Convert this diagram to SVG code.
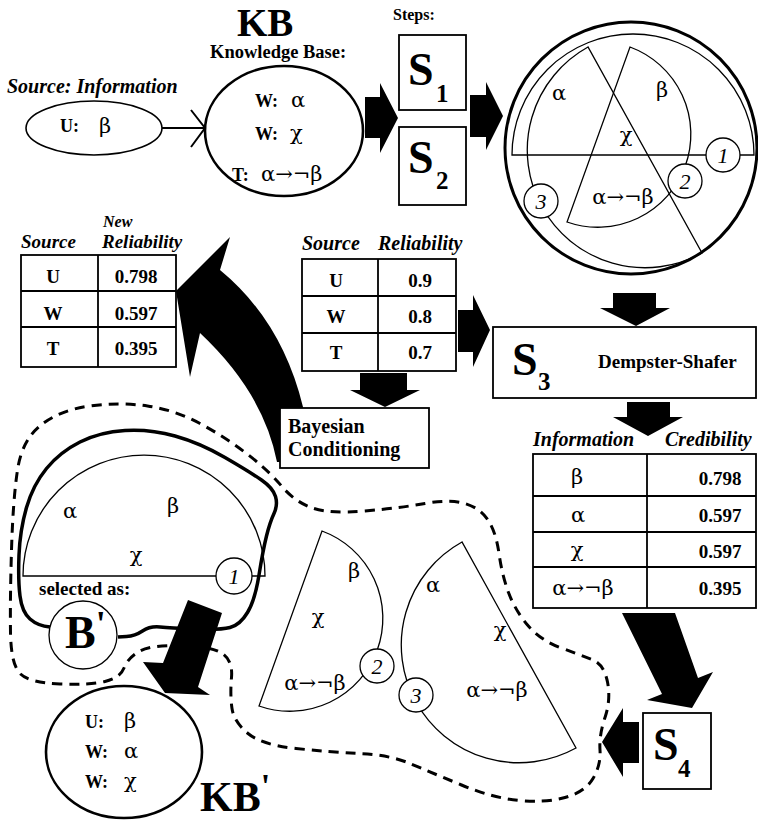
<svg xmlns="http://www.w3.org/2000/svg" width="758" height="820" viewBox="0 0 758 820">
<style>
text{font-family:"Liberation Serif","Times New Roman",serif;fill:#000}
.b{font-weight:bold}
.bi{font-weight:bold;font-style:italic}
.g{font-family:"DejaVu Serif","Liberation Serif",serif;font-size:21px}
.m{text-anchor:middle}
.ln{fill:none;stroke:#000;stroke-width:1.3}
.box{fill:#fff;stroke:#000;stroke-width:1.8}
.tb{fill:none;stroke:#000;stroke-width:1.8}
.arr{fill:#000;stroke:none}
.num{fill:#fff;stroke:#000;stroke-width:1.3}
.nt{font-style:italic;font-size:22px;text-anchor:middle}
.big{font-weight:bold;font-size:46px}
.sub{font-weight:bold;font-size:25px}
.cell{font-weight:bold;font-size:19px;text-anchor:middle}
</style>
<rect width="758" height="820" fill="#fff"/>

<!-- dashed region -->
<g id="region">
<path d="M 11.5,550 Q 13,500 17.5,470 Q 22,440 41,425 Q 60,410 90,406 Q 120,402 147.5,406 Q 175,410 200,423.5 Q 225,437 246.5,453.5 Q 268,470 281.5,486 Q 295,502 312.5,508 Q 330,514 365,511 Q 400,508 425,503.5 Q 450,499 465,503.5 Q 480,508 488,520 Q 496,532 499,553.5 Q 502,575 508.5,592.5 Q 515,610 527.5,625 Q 540,640 560,647.5 Q 580,655 592,659.5 Q 604,664 607.5,682 Q 611,700 605,717.5 Q 599,735 600,750 Q 601,765 593,778.5 Q 585,792 565,797.5 Q 545,803 519,800.5 Q 493,798 461.5,785 Q 430,772 410,763.5 Q 390,755 360,753.5 Q 330,752 296,748.5 Q 262,745 248,733.5 Q 234,722 232,708.5 Q 230,695 231.5,677.5 Q 233,660 221.5,653 Q 210,646 180,645.5 Q 150,645 139,651.5 Q 128,658 124,668 Q 120,678 105,681.5 Q 90,685 60,684 Q 30,683 20.5,674 Q 11,665 10.5,632.5 Q 10,600 11.5,550 Z" fill="none" stroke="#000" stroke-width="3" stroke-dasharray="10 7"/>
</g>

<!-- source -->
<g id="source">
<text x="7" y="93" class="bi" font-size="20">Source: Information</text>
<ellipse cx="94" cy="128" rx="68" ry="27" fill="none" stroke="#000" stroke-width="1.6"/>
<text x="60" y="132" class="b" font-size="18">U:</text>
<text x="99" y="133" class="g">β</text>
</g>

<!-- KB -->
<g id="kb">
<text x="237" y="36" class="b" font-size="39">KB</text>
<text x="210" y="58" class="b" font-size="18.5">Knowledge Base:</text>
<ellipse cx="284" cy="131" rx="79" ry="65" fill="none" stroke="#000" stroke-width="2.6"/>
<text x="255" y="107" class="b" font-size="18">W:</text>
<text x="291" y="107" class="g">α</text>
<text x="255" y="140" class="b" font-size="18">W:</text>
<text x="290" y="140" class="g">χ</text>
<text x="232" y="181" class="b" font-size="18">T:</text>
<text x="261" y="181" class="g">α→¬β</text>
</g>

<!-- steps -->
<g id="steps">
<text x="393" y="20" class="b" font-size="16">Steps:</text>
<rect x="399" y="35" width="67" height="75" class="box"/>
<text x="408" y="85" class="big">S</text><text x="436" y="102" class="sub">1</text>
<rect x="399" y="127" width="67" height="78" class="box"/>
<text x="408" y="173" class="big">S</text><text x="436" y="189" class="sub">2</text>
</g>

<!-- circle of sectors -->
<g id="combined">
<circle cx="631" cy="148" r="126" fill="none" stroke="#000" stroke-width="3"/>
<path class="ln" d="M512,155 A121,121 0 0 1 754,155 Z"/>
<path class="ln" d="M630,47 A93,93 0 0 1 567,222 Z"/>
<path class="ln" d="M588,47 A117.7,117.7 0 0 0 702,253 Z"/>
<text x="559" y="100" class="g m">α</text>
<text x="662" y="97" class="g m">β</text>
<text x="626" y="142" class="g m">χ</text>
<text x="623" y="204" class="g m">α→¬β</text>
<circle cx="723" cy="155" r="17" class="num"/><text x="723" y="163" class="nt">1</text>
<circle cx="685" cy="181" r="17" class="num"/><text x="685" y="189" class="nt">2</text>
<circle cx="541" cy="201" r="17" class="num"/><text x="541" y="209" class="nt">3</text>
</g>

<!-- new reliability table -->
<g id="newrel">
<text x="21" y="248" class="bi" font-size="19">Source</text>
<text x="103" y="227" class="bi" font-size="16">New</text>
<text x="102" y="248" class="bi" font-size="19">Reliability</text>
<rect x="21" y="255" width="155" height="112" class="tb"/>
<path class="tb" d="M98,255 V367 M21,291 H176 M21,327 H176"/>
<text x="53" y="283" class="cell">U</text><text x="136" y="283" class="cell">0.798</text>
<text x="53" y="320" class="cell">W</text><text x="136" y="320" class="cell">0.597</text>
<text x="53" y="355" class="cell">T</text><text x="136" y="355" class="cell">0.395</text>
</g>

<!-- reliability table -->
<g id="rel">
<text x="302" y="250" class="bi" font-size="20">Source</text>
<text x="378" y="250" class="bi" font-size="20">Reliability</text>
<rect x="302" y="259" width="154" height="112" class="tb"/>
<path class="tb" d="M378,259 V371 M302,296 H456 M302,333 H456"/>
<text x="336" y="287" class="cell">U</text><text x="420" y="287" class="cell">0.9</text>
<text x="336" y="323" class="cell">W</text><text x="420" y="323" class="cell">0.8</text>
<text x="336" y="359" class="cell">T</text><text x="420" y="359" class="cell">0.7</text>
</g>

<!-- connectors -->
<g id="connectors">
<path d="M162,128 H205 M191,110 L205,128 L191,147" fill="none" stroke="#000" stroke-width="2"/>
<polygon class="arr" points="365,97 380,97 380,83 398,118 380,153 380,138 365,138"/>
<polygon class="arr" points="470,95 486,95 486,82 503,116 486,150 486,137 470,137"/>
<polygon class="arr" points="613,293 656,293 656,308 670,308 636,326 600,308 613,308"/>
<polygon class="arr" points="458,310 473,310 473,295 490,330 473,367 473,352 458,352"/>
<polygon class="arr" points="360,373 407,373 407,390 420,390 385,407 350,390 360,390"/>
<polygon class="arr" points="627,402 670,402 670,417 683,417 648,436 613,417 627,417"/>
<polygon class="arr" points="622,613 675,613 698,678 713,672 692,708 647,700 662,694"/>
<polygon class="arr" points="639,722 639,763 623,763 623,777 602,742 623,708 623,722"/>
<path class="arr" d="M230,237 L176,291 L190,377 L200,333 Q263.5,392.5 277,462 L300,462 L303,407 Q282,321 220,270 Z"/>
</g>

<!-- S3 -->
<g id="s3">
<rect x="493" y="327" width="263" height="71" class="box"/>
<text x="512" y="375" class="big">S</text><text x="538" y="390" class="sub">3</text>
<text x="598" y="368" class="b" font-size="19">Dempster-Shafer</text>
</g>

<!-- Bayesian -->
<g id="bayes">
<rect x="280" y="408" width="149" height="60" class="box"/>
<text x="288" y="433" class="b" font-size="20">Bayesian</text>
<text x="288" y="456" class="b" font-size="20">Conditioning</text>
</g>

<!-- information table -->
<g id="info">
<text x="533" y="446" class="bi" font-size="20">Information</text>
<text x="665" y="446" class="bi" font-size="20">Credibility</text>
<rect x="533" y="454" width="223" height="154" class="tb"/>
<path class="tb" d="M647,454 V608 M533,496 H756 M533,532 H756 M533,567 H756"/>
<text x="577" y="484" class="g m">β</text><text x="720" y="485" class="cell">0.798</text>
<text x="578" y="522" class="g m">α</text><text x="720" y="522" class="cell">0.597</text>
<text x="577" y="557" class="g m">χ</text><text x="720" y="558" class="cell">0.597</text>
<text x="583" y="595" class="g m">α→¬β</text><text x="720" y="595" class="cell">0.395</text>
</g>

<!-- S4 -->
<g id="s4">
<rect x="643" y="713" width="68" height="76" class="box"/>
<text x="653" y="760" class="big">S</text><text x="678" y="777" class="sub">4</text>
</g>

<!-- lower separated sectors -->
<g id="sector2">
<path class="ln" d="M322,531 A93,93 0 0 1 259,706 Z"/>
<text x="354" y="578" class="g m">β</text>
<text x="318" y="624" class="g m">χ</text>
<text x="315" y="690" class="g m">α→¬β</text>
<circle cx="377" cy="666" r="17" class="num"/><text x="377" y="674" class="nt">2</text>
</g>
<g id="sector3">
<path class="ln" d="M462,542 A117.7,117.7 0 0 0 576,748 Z"/>
<text x="433" y="592" class="g m">α</text>
<text x="500" y="637" class="g m">χ</text>
<text x="497" y="697" class="g m">α→¬β</text>
<circle cx="416" cy="695" r="17" class="num"/><text x="416" y="703" class="nt">3</text>
</g>

<!-- B' selection -->
<g id="bprime">
<path d="M 118,637 L 126.5,636.5 Q 135,636 142.5,631 Q 150,626 160,627 Q 170,628 195,629 Q 220,630 230,627.5 Q 240,625 247.5,612.5 Q 255,600 259,575 Q 263,550 266.5,536 Q 270,522 274,513.5 Q 278,505 275.5,496.5 Q 273,488 261.5,480 Q 250,472 225,457.5 Q 200,443 175,436 Q 150,429 125,430.5 Q 100,432 80,442 Q 60,452 46.5,468.5 Q 33,485 26.5,507.5 Q 20,530 19,555 Q 18,580 20,596 Q 22,612 30,619 Q 38,626 50,627" fill="none" stroke="#000" stroke-width="3.5"/>
<path class="ln" d="M23,576 A121,121 0 0 1 265,576 Z"/>
<text x="70" y="518" class="g m">α</text>
<text x="173" y="513" class="g m">β</text>
<text x="136" y="562" class="g m">χ</text>
<circle cx="234" cy="576" r="18" class="num"/><text x="234" y="584" class="nt">1</text>
<text x="39" y="595" class="b" font-size="19">selected as:</text>
<circle cx="83" cy="635" r="34" class="num" stroke-width="1.6"/>
<text x="65" y="648" class="big">B<tspan font-size="36" dy="-12">'</tspan></text>
</g>

<polygon class="arr" points="188,600 222,613 198,687 210,695 165,693 143,662 163,663"/>

<!-- KB' -->
<g id="kbprime">
<ellipse cx="124" cy="752" rx="78" ry="66" fill="none" stroke="#000" stroke-width="2.6"/>
<text x="85" y="728" class="b" font-size="18">U:</text><text x="124" y="728" class="g">β</text>
<text x="85" y="758" class="b" font-size="18">W:</text><text x="124" y="758" class="g">α</text>
<text x="85" y="788" class="b" font-size="18">W:</text><text x="124" y="788" class="g">χ</text>
<text x="200" y="811" class="b" font-size="42">KB<tspan font-size="34" dy="-14">'</tspan></text>
</g>
</svg>
